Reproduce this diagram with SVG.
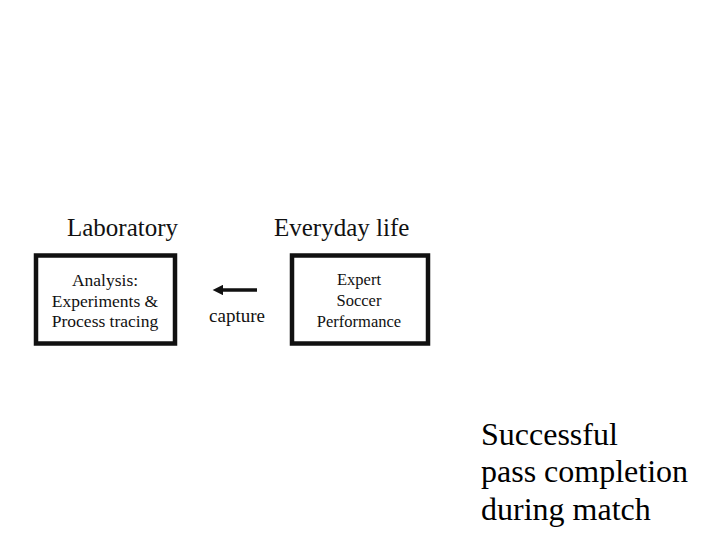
<svg xmlns="http://www.w3.org/2000/svg" width="720" height="540" viewBox="0 0 720 540">
<style>
text{font-family:"Liberation Serif","Times New Roman",serif;fill:#111}
.head{font-size:25px}
.box{fill:#fff;stroke:#111;stroke-width:4.5}
.lbl{font-size:17.5px;text-anchor:middle}
.lbr{font-size:16.5px;text-anchor:middle}
.big{font-size:32px;fill:#000}
</style>
<defs>
<marker id="ah" viewBox="0 0 10 10" refX="2" refY="5" markerWidth="3.2" markerHeight="3" orient="auto" markerUnits="strokeWidth">
<path d="M0,0 L10,5 L0,10 z" fill="#111"/>
</marker>
</defs>
<rect width="720" height="540" fill="#fff"/>
<text class="head" x="67" y="236">Laboratory</text>
<text class="head" x="274" y="236">Everyday life</text>
<g id="node-analysis">
<rect class="box" x="36" y="255.5" width="139" height="88"/>
<text class="lbl" x="105" y="286">Analysis:</text>
<text class="lbl" x="105" y="307">Experiments &amp;</text>
<text class="lbl" x="105" y="327">Process tracing</text>
</g>
<g id="node-expert">
<rect class="box" x="292" y="255.5" width="136" height="88"/>
<text class="lbr" x="359" y="285">Expert</text>
<text class="lbr" x="359" y="306">Soccer</text>
<text class="lbr" x="359" y="327">Performance</text>
</g>
<g id="connectors">
<line x1="257" y1="290" x2="221" y2="290" stroke="#111" stroke-width="3.5" marker-end="url(#ah)"/>
<text x="237" y="322" font-size="19" text-anchor="middle">capture</text>
</g>
<g id="note">
<text class="big" x="481" y="445">Successful</text>
<text class="big" x="481" y="482">pass completion</text>
<text class="big" x="481" y="520">during match</text>
</g>
</svg>
